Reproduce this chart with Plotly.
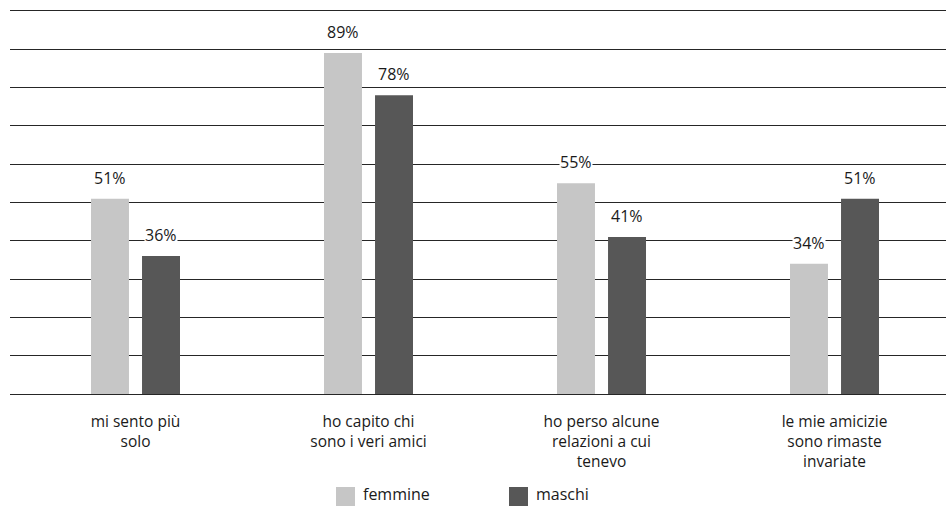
import plotly.graph_objects as go

# Survey answers, percentages by gender
categories = [
    "mi sento più<br>solo",
    "ho capito chi<br>sono i veri amici",
    "ho perso alcune<br>relazioni a cui<br>tenevo",
    "le mie amicizie<br>sono rimaste<br>invariate",
]
femmine = [51, 89, 55, 34]
maschi = [36, 78, 41, 51]
series_names = ["femmine", "maschi"]
y_ticks = list(range(0, 101, 10))

W, H = 946, 506
M_L, M_R, M_T, M_B = 10, 0, 9, 112
Y_TOP = 100.52  # a little headroom so the 100 gridline is drawn
FONT = "Open Sans"
TXT = "#1a1a1a"
COLORS = ["#c6c6c6", "#575757"]

BAR_W = 0.163
OFFSETS = [-0.191, 0.028]

x_pos = list(range(len(categories)))
fig = go.Figure()
for name, vals, col, off in zip(series_names, [femmine, maschi], COLORS, OFFSETS):
    fig.add_trace(go.Bar(
        x=x_pos, y=vals, name=name, width=BAR_W, offset=off,
        marker=dict(color=col, line=dict(width=0)), showlegend=False,
    ))
    # value labels above each bar, on white so gridlines stop at the text
    for xi, v in zip(x_pos, vals):
        fig.add_annotation(
            x=xi + off + BAR_W / 2, y=v, text=f"{v}%", showarrow=False,
            xref="x", yref="y", yanchor="bottom", yshift=9,
            bgcolor="white", borderpad=0,
            font=dict(family=FONT, size=16, color=TXT),
        )

# hand-built legend below the categories
plot_w = W - M_L - M_R
plot_h = H - M_T - M_B
def px_x(p):
    return (p - M_L) / plot_w
def px_y(p):
    return (H - M_B - p) / plot_h

legend_items = [(336, series_names[0], COLORS[0]), (509, series_names[1], COLORS[1])]
for x0, name, col in legend_items:
    fig.add_shape(type="rect", xref="paper", yref="paper",
                  x0=px_x(x0), x1=px_x(x0 + 19), y0=px_y(506), y1=px_y(487),
                  fillcolor=col, line=dict(width=0), layer="above")
    fig.add_annotation(xref="paper", yref="paper", x=px_x(x0 + 26), y=px_y(506),
                       xanchor="left", yanchor="bottom", text=name, showarrow=False,
                       borderpad=0, font=dict(family=FONT, size=16, color=TXT))

fig.update_layout(
    width=W, height=H,
    margin=dict(l=M_L, r=M_R, t=M_T, b=M_B),
    paper_bgcolor="white", plot_bgcolor="white",
    barmode="overlay",
    font=dict(family=FONT, size=15, color=TXT),
    xaxis=dict(
        range=[-0.5386, 3.4785], tickvals=x_pos, ticktext=categories,
        showgrid=False, zeroline=False, showline=False, ticks="",
        ticklabelstandoff=16, tickfont=dict(family=FONT, size=15.5, color=TXT),
    ),
    yaxis=dict(
        range=[0, Y_TOP], tickvals=y_ticks, showticklabels=False,
        showgrid=True, gridcolor="#262626", gridwidth=1,
        zeroline=True, zerolinecolor="#262626", zerolinewidth=1,
        showline=False, ticks="",
    ),
)

fig.write_html("out.html")
